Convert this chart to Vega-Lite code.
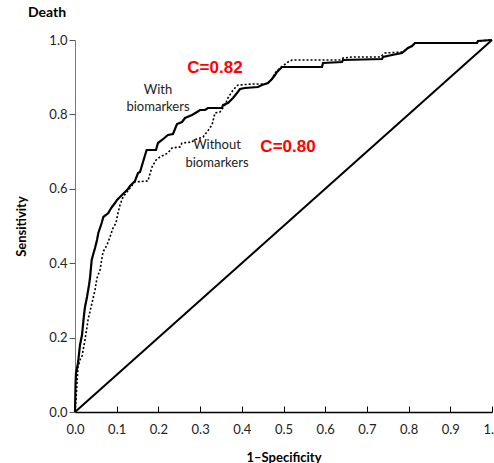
{
  "$schema": "https://vega.github.io/schema/vega-lite/v6.json",
  "width": 417,
  "height": 372,
  "autosize": "none",
  "padding": {"left": 75, "top": 40, "right": 2, "bottom": 51},
  "background": "white",
  "title": {"text": "Death", "anchor": "start", "frame": "group", "dx": -47, "offset": 14, "fontSize": 14, "fontWeight": "bold", "font": "Lato", "color": "#000"},
  "datasets": {
    "diag": [{"x": 0, "y": 0}, {"x": 1, "y": 1}],
    "with": [
      {"x":0,"y":0},{"x":0.0012,"y":0.0726},{"x":0.0024,"y":0.1048},{"x":0.0072,"y":0.1317},{"x":0.012,"y":0.1801},{"x":0.0168,"y":0.207},{"x":0.0216,"y":0.2608},{"x":0.024,"y":0.2823},{"x":0.0288,"y":0.3091},{"x":0.0336,"y":0.3414},{"x":0.036,"y":0.3602},{"x":0.04,"y":0.4086},{"x":0.0432,"y":0.422},{"x":0.048,"y":0.4409},{"x":0.0528,"y":0.4624},{"x":0.0559,"y":0.4812},{"x":0.06,"y":0.4946},{"x":0.064,"y":0.5081},{"x":0.0679,"y":0.5242},{"x":0.0743,"y":0.5296},{"x":0.0799,"y":0.5349},{"x":0.0839,"y":0.543},{"x":0.0887,"y":0.5511},{"x":0.0959,"y":0.5618},{"x":0.1007,"y":0.5699},{"x":0.1079,"y":0.578},{"x":0.1199,"y":0.5914},{"x":0.1271,"y":0.5995},{"x":0.1319,"y":0.6075},{"x":0.1439,"y":0.621},{"x":0.1511,"y":0.6425},{"x":0.1559,"y":0.6452},{"x":0.1631,"y":0.672},{"x":0.1703,"y":0.6989},{"x":0.1719,"y":0.7043},{"x":0.1942,"y":0.7043},{"x":0.199,"y":0.7231},{"x":0.2086,"y":0.7312},{"x":0.223,"y":0.7446},{"x":0.235,"y":0.7473},{"x":0.2446,"y":0.7742},{"x":0.2566,"y":0.7796},{"x":0.2638,"y":0.7903},{"x":0.2806,"y":0.7984},{"x":0.2926,"y":0.8065},{"x":0.2998,"y":0.8118},{"x":0.3118,"y":0.8118},{"x":0.3189,"y":0.8172},{"x":0.3525,"y":0.8172},{"x":0.3549,"y":0.8253},{"x":0.3669,"y":0.8306},{"x":0.3789,"y":0.8441},{"x":0.3885,"y":0.8575},{"x":0.3957,"y":0.8683},{"x":0.4077,"y":0.871},{"x":0.4388,"y":0.8737},{"x":0.4484,"y":0.879},{"x":0.4628,"y":0.8844},{"x":0.4724,"y":0.8952},{"x":0.4796,"y":0.9059},{"x":0.4844,"y":0.914},{"x":0.4964,"y":0.9274},{"x":0.5923,"y":0.9274},{"x":0.5947,"y":0.9382},{"x":0.6403,"y":0.9409},{"x":0.6427,"y":0.9462},{"x":0.7362,"y":0.9489},{"x":0.7386,"y":0.9543},{"x":0.7602,"y":0.9597},{"x":0.7842,"y":0.9651},{"x":0.7986,"y":0.9785},{"x":0.8082,"y":0.9839},{"x":0.8153,"y":0.9919},{"x":0.964,"y":0.9919},{"x":0.9664,"y":0.9973},{"x":1,"y":1}
    ],
    "without": [
      {"x":0,"y":0},{"x":0.0012,"y":0.0188},{"x":0.0024,"y":0.0323},{"x":0.0072,"y":0.121},{"x":0.012,"y":0.1398},{"x":0.0168,"y":0.1505},{"x":0.024,"y":0.1935},{"x":0.0312,"y":0.2473},{"x":0.0408,"y":0.293},{"x":0.048,"y":0.328},{"x":0.0528,"y":0.3602},{"x":0.06,"y":0.3817},{"x":0.0671,"y":0.4301},{"x":0.0767,"y":0.4489},{"x":0.0839,"y":0.4704},{"x":0.0911,"y":0.4946},{"x":0.0983,"y":0.5081},{"x":0.1031,"y":0.5349},{"x":0.1079,"y":0.5565},{"x":0.1151,"y":0.578},{"x":0.1247,"y":0.5914},{"x":0.1319,"y":0.6022},{"x":0.1439,"y":0.6183},{"x":0.1751,"y":0.621},{"x":0.1775,"y":0.6317},{"x":0.1847,"y":0.6586},{"x":0.1942,"y":0.6774},{"x":0.2038,"y":0.6855},{"x":0.223,"y":0.6962},{"x":0.2326,"y":0.7097},{"x":0.2518,"y":0.7124},{"x":0.2566,"y":0.7231},{"x":0.2806,"y":0.7258},{"x":0.2854,"y":0.7312},{"x":0.307,"y":0.7392},{"x":0.3165,"y":0.7527},{"x":0.3285,"y":0.7715},{"x":0.3357,"y":0.8038},{"x":0.3477,"y":0.8065},{"x":0.3597,"y":0.8253},{"x":0.3669,"y":0.8441},{"x":0.3789,"y":0.8656},{"x":0.3909,"y":0.879},{"x":0.4269,"y":0.8817},{"x":0.4556,"y":0.8817},{"x":0.4628,"y":0.8844},{"x":0.4724,"y":0.8952},{"x":0.4796,"y":0.9113},{"x":0.4916,"y":0.9247},{"x":0.5108,"y":0.9409},{"x":0.5204,"y":0.9462},{"x":0.6355,"y":0.9462},{"x":0.6427,"y":0.9516},{"x":0.6643,"y":0.9543},{"x":0.7314,"y":0.9543},{"x":0.7434,"y":0.9651},{"x":0.7866,"y":0.9677},{"x":0.7986,"y":0.9785},{"x":0.8082,"y":0.9839},{"x":0.8153,"y":0.9919},{"x":0.964,"y":0.9919},{"x":0.9664,"y":0.9973},{"x":1,"y":1}
    ],
    "labels": [
      {"x": 0.199, "y": 0.8656, "t": "With"},
      {"x": 0.199, "y": 0.8199, "t": "biomarkers"},
      {"x": 0.3405, "y": 0.7177, "t": "Without"},
      {"x": 0.3405, "y": 0.6694, "t": "biomarkers"}
    ],
    "cvals": [
      {"x": 0.3357, "y": 0.9247, "t": "C=0.82"},
      {"x": 0.5108, "y": 0.7124, "t": "C=0.80"}
    ]
  },
  "encoding": {
    "x": {
      "field": "x", "type": "quantitative",
      "scale": {"domain": [0, 1], "nice": false, "zero": false},
      "axis": {
        "title": "1\u2013Specificity", "values": [0,0.1,0.2,0.3,0.4,0.5,0.6,0.7,0.8,0.9,1],
        "format": ".1f", "grid": false, "tickSize": -6, "labelPadding": 17,
        "domainColor": "#000", "domainWidth": 1.5, "tickColor": "#000", "tickWidth": 1,
        "labelFont": "Lato", "labelFontSize": 13, "labelColor": "#222",
        "titleFont": "Lato", "titleFontSize": 13, "titleFontWeight": "bold", "titleColor": "#000", "titlePadding": 15,
        "labelFlush": false, "labelOverlap": false
      }
    },
    "y": {
      "field": "y", "type": "quantitative",
      "scale": {"domain": [0, 1], "nice": false, "zero": false},
      "axis": {
        "title": "Sensitivity", "values": [0,0.2,0.4,0.6,0.8,1], "format": ".1f",
        "grid": false, "tickSize": 6, "labelPadding": 2,
        "domainColor": "#777", "domainWidth": 1, "tickColor": "#555",
        "labelFont": "Lato", "labelFontSize": 13, "labelColor": "#222",
        "titleFont": "Lato", "titleFontSize": 13, "titleFontWeight": "bold", "titleColor": "#000", "titlePadding": 20,
        "labelFlush": false, "labelOverlap": false
      }
    }
  },
  "layer": [
    {"data": {"name": "diag"}, "mark": {"type": "line", "color": "#000", "strokeWidth": 2}},
    {"data": {"name": "without"}, "mark": {"type": "line", "color": "#000", "strokeWidth": 1.6, "strokeDash": [2, 2]}},
    {"data": {"name": "with"}, "mark": {"type": "line", "color": "#000", "strokeWidth": 2.2}},
    {"data": {"name": "labels"}, "mark": {"type": "text", "font": "Lato", "fontSize": 13, "color": "#222", "align": "center", "baseline": "middle"}, "encoding": {"text": {"field": "t"}}},
    {"data": {"name": "cvals"}, "mark": {"type": "text", "font": "Liberation Sans", "fontSize": 17, "fontWeight": "bold", "color": "#ff0000", "align": "center", "baseline": "middle"}, "encoding": {"text": {"field": "t"}}}
  ],
  "config": {"view": {"stroke": null}}
}
